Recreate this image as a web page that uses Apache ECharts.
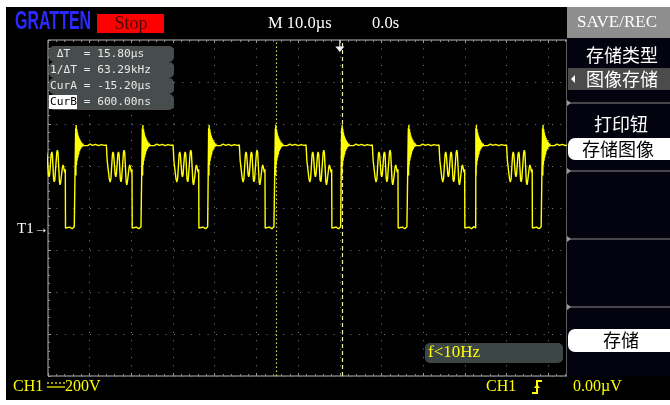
<!DOCTYPE html>
<html><head><meta charset="utf-8">
<script src="https://cdn.jsdelivr.net/npm/echarts@6/dist/echarts.min.js"></script>
<style>
html,body{margin:0;padding:0;background:#fff;}
#wrap{position:relative;width:670px;height:405px;overflow:hidden;}
#scr{position:absolute;left:6px;top:7px;width:664px;height:393px;background:#000;}
#c{position:absolute;left:0;top:0;width:670px;height:405px;}
</style>
</head><body><div id="wrap"><div id="scr"></div><div id="c"></div></div>
<script>
const timeRange = [-70, 54.5];          // µs, visible window (10 µs/div)
const voltRange = [-705, 895];          // V, visible window (200 V/div), 0 V at T1 marker
const gridDivsX = 12.45;
const gridDivsY = 8;
// rising-edge times of each cycle (µs)
const risingEdges = [-79.4, -63.4, -47.4, -31.5, -15.5, 0.4, 16.4, 32.6, 48.6];
// one cycle, times relative to the rising edge (µs) and volts
const cycleOffsets = [0, 0.04, 0.10, 0.16, 0.24, 0.32, 0.40, 0.48, 0.57, 0.66, 0.76, 0.86, 0.97, 1.09, 1.22, 1.36, 1.52, 1.70, 1.90, 2.3, 2.9, 3.5, 4.1, 4.8, 5.5, 6.2, 6.9, 7.4,
  7.6, 8.1, 8.3, 8.5, 8.85, 9.0, 9.15, 9.5, 9.65, 9.8, 10.15, 10.3, 10.45, 10.75, 10.9, 11.05, 11.5, 11.65, 11.8, 12.15, 12.3, 12.45, 12.85, 13.0, 13.15, 13.4, 13.55, 13.6,
  14.0, 14.6, 15.2, 15.7];
const cycleVolts = [0, 475, 250, 490, 300, 470, 320, 455, 335, 440, 350, 430, 365, 420, 375, 410, 385, 402, 392, 397, 392, 399, 393, 398, 392, 397, 393, 395,
  320, 235, 219, 235, 350, 362, 350, 255, 243, 255, 350, 362, 350, 232, 219, 232, 358, 371, 358, 220, 205, 220, 288, 300, 290, 265, 280, 0,
  -6, 4, -4, 6];
const cursorTimes = [-15.2, 0.6];       // CurA, CurB (µs)
const triggerTime = 0;
const measLabels = [' ΔT ', '1/ΔT', 'CurA', 'CurB'];
const measValues = ['15.80µs', '63.29kHz', '-15.20µs', '600.00ns'];
const headerTexts = ['M 10.0µs', '0.0s'];
const menuTitle = 'SAVE/REC';
const menuItems = ['存储类型', '图像存储', '打印钮', '存储图像', '存储'];
const statusTexts = ['CH1', '200V', 'CH1', '0.00µV'];
const freqText = 'f<10Hz';

// ---- build waveform ----
const wave = [];
risingEdges.forEach(e => cycleOffsets.forEach((o, i) => wave.push([+(e + o).toFixed(3), cycleVolts[i]])));

const chart = echarts.init(document.getElementById('c'), null, {renderer: 'canvas'});
const SERIF = '"Liberation Serif", "DejaVu Serif", serif';
const CJK = '"Noto Sans CJK SC", sans-serif';
const MONO = '"DejaVu Sans Mono", "Liberation Mono", monospace';
const Y = '#ffff00';
const g = [];
function txt(x, y, s, font, fill, align, extra) {
  g.push(Object.assign({type: 'text', z: 100, style: {x: x, y: y, text: s, font: font, fill: fill, textAlign: align || 'left', textVerticalAlign: 'middle'}}, extra || {}));
}
function rect(x, y, w, h, fill, r, z) {
  g.push({type: 'rect', z: z || 90, shape: {x: x, y: y, width: w, height: h, r: r || 0}, style: {fill: fill}});
}
function line(x1, y1, x2, y2, stroke, w, dash) {
  g.push({type: 'line', z: 95, shape: {x1: x1, y1: y1, x2: x2, y2: y2}, style: {stroke: stroke, lineWidth: w || 1, lineDash: dash || null}});
}
// right panel
rect(567, 38, 103, 338, '#03030f', 0, 80);
rect(567, 7, 103, 31, '#8e8e8e');
txt(617, 23, menuTitle, '17px ' + SERIF, '#ffffff', 'center');
txt(622, 55, menuItems[0], '18px ' + CJK, '#ffffff', 'center');
rect(568, 68, 102, 22, '#4b4b4b');
g.push({type: 'polygon', z: 100, shape: {points: [[575, 75], [575, 83], [571, 79]]}, style: {fill: '#ffffff'}});
txt(622, 79, menuItems[1], '18px ' + CJK, '#ffffff', 'center');
[103, 171, 239, 307].forEach(yy => {
  line(567, yy, 670, yy, '#8a8a8a', 1);
  g.push({type: 'polygon', z: 100, shape: {points: [[567, yy - 3], [567, yy + 3], [571, yy]]}, style: {fill: '#9a9a9a'}});
});
txt(621, 124, menuItems[2], '18px ' + CJK, '#ffffff', 'center');
rect(568, 138, 102, 22, '#ffffff', [7, 0, 0, 7]);
txt(618, 149, menuItems[3], '18px ' + CJK, '#000000', 'center');
rect(568, 329, 102, 23, '#ffffff', [7, 0, 0, 7]);
txt(621, 340, menuItems[4], '18px ' + CJK, '#000000', 'center');
// header
txt(15, 22, 'GRATTEN', 'bold 25px "Liberation Sans Narrow", "Liberation Sans", sans-serif', '#2a2aff', 'left', {scaleX: 0.64, originX: 15, originY: 22});
rect(97, 14, 67, 19, '#ff0000');
txt(131, 24, 'Stop', '18px ' + SERIF, '#4a0808', 'center');
txt(268, 24, headerTexts[0], '16.5px ' + SERIF, '#ffffff');
txt(372, 24, headerTexts[1], '16.5px ' + SERIF, '#ffffff');
// measurement box
const rowY = [46, 62, 78, 94];
rowY.forEach((yy, i) => {
  rect(49, yy, 125, 16, '#474c4c', 5, 90);
  const lab = measLabels[i];
  if (i === 3) {
    rect(49, yy + 1, 28, 14, '#ffffff', 0, 92);
    txt(50, yy + 8, lab, '11.2px ' + MONO, '#000000');
    txt(50, yy + 8, '     = ' + measValues[i], '11.2px ' + MONO, '#e8e8e8');
  } else {
    txt(50, yy + 8, lab + ' = ' + measValues[i], '11.2px ' + MONO, '#e8e8e8');
  }
});
// frequency box
rect(425, 343, 138, 20, '#3c4646', 5);
txt(428, 353, freqText, '17px ' + SERIF, Y);
// T1 marker
txt(17, 229, 'T1→', '15px ' + SERIF, '#ffffff');
// status bar
txt(13, 387, statusTexts[0], '16px ' + SERIF, Y);
line(47, 383, 65, 383, Y, 1.2, [2, 2]);
line(47, 387, 65, 387, Y, 1.2);
txt(65, 387, statusTexts[1], '16px ' + SERIF, Y);
txt(486, 387, statusTexts[2], '16px ' + SERIF, Y);
g.push({type: 'polyline', z: 100, shape: {points: [[532, 393], [537, 393], [537, 381], [542, 381]]}, style: {stroke: Y, lineWidth: 2, fill: null}});
g.push({type: 'polygon', z: 100, shape: {points: [[534, 388], [540, 388], [537, 384]]}, style: {fill: Y}});
txt(573, 387, statusTexts[3], '16px ' + SERIF, Y);

const gridAxisCommon = {axisLabel: {show: false}, axisLine: {show: false}};
const option = {
  backgroundColor: 'transparent',
  animation: false,
  grid: {left: 48, top: 40, width: 519, height: 336, show: true, borderColor: '#b8b8b8', borderWidth: 1, backgroundColor: 'transparent'},
  xAxis: [
    Object.assign({type: 'value', min: 0, max: gridDivsX, interval: 1,
      axisTick: {show: true, inside: true, length: 3, lineStyle: {color: '#9a9a9a'}},
      minorTick: {show: true, splitNumber: 5, length: 2, lineStyle: {color: '#8a8a8a'}},
      splitLine: {show: true, lineStyle: {color: '#7c7c7c', width: 1, type: [1, 7.34]}}}, gridAxisCommon),
    {type: 'value', min: timeRange[0], max: timeRange[1], show: false},
    Object.assign({type: 'value', position: 'top', min: 0, max: gridDivsX, interval: 1,
      axisTick: {show: true, inside: true, length: 3, lineStyle: {color: '#9a9a9a'}},
      minorTick: {show: true, splitNumber: 5, length: 2, lineStyle: {color: '#8a8a8a'}},
      splitLine: {show: false}}, gridAxisCommon)
  ],
  yAxis: [
    Object.assign({type: 'value', min: 0, max: gridDivsY, interval: 1,
      axisTick: {show: true, inside: true, length: 3, lineStyle: {color: '#9a9a9a'}},
      minorTick: {show: true, splitNumber: 5, length: 2, lineStyle: {color: '#8a8a8a'}},
      splitLine: {show: true, lineStyle: {color: '#7c7c7c', width: 1, type: [1, 7.4]}}}, gridAxisCommon),
    {type: 'value', min: voltRange[0], max: voltRange[1], show: false}
  ],
  graphic: g,
  series: [{
    type: 'line', xAxisIndex: 1, yAxisIndex: 1, data: wave, showSymbol: false, symbol: 'none',
    lineStyle: {color: Y, width: 1.4}, z: 5, clip: true, silent: true,
    markLine: {silent: true, symbol: 'none', label: {show: false},
      data: [
        {xAxis: cursorTimes[0], lineStyle: {color: '#dede55', type: [1.5, 2.5], width: 1.2}},
        {xAxis: cursorTimes[1], lineStyle: {color: '#f3f3a8', type: [4, 3], width: 1.2}}
      ]},
    markPoint: {silent: true, label: {show: false},
      data: [{coord: [triggerTime, voltRange[1]], symbol: 'path://M4,0 L5,0 L5,6 L9,6 L4.5,11 L0,6 L4,6 Z', symbolSize: [9, 12], symbolOffset: [0, 6], itemStyle: {color: '#f4f4f4'}}]}
  }]
};
chart.setOption(option);
</script></body></html>
